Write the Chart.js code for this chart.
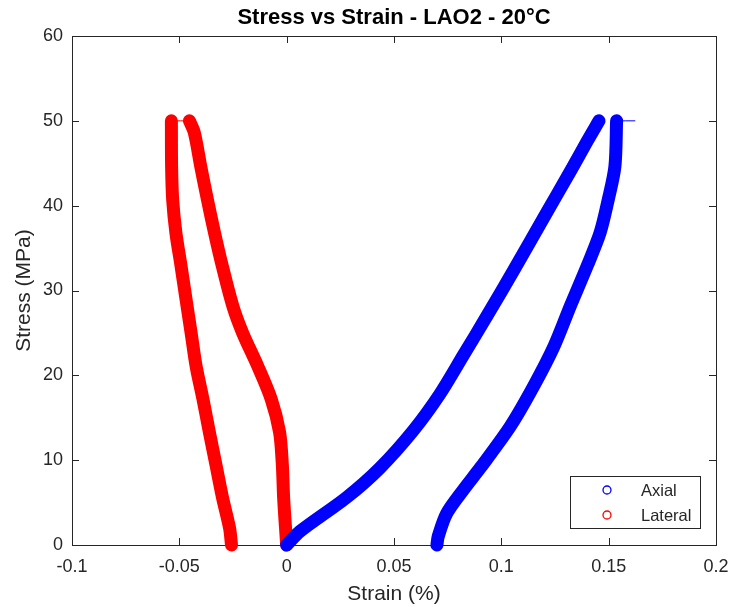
<!DOCTYPE html>
<html>
<head>
<meta charset="utf-8">
<title>Stress vs Strain - LAO2 - 20°C</title>
<script src="https://cdn.jsdelivr.net/npm/chart.js@4.4.1/dist/chart.umd.min.js"></script>
<style>
  html, body { margin: 0; padding: 0; background: #fff; }
  canvas { display: block; }
</style>
</head>
<body>
<canvas id="myChart" width="733" height="607"></canvas>
<script>
//=========================== DATA ===========================//
// axial strain, loading branch (%) and stress (MPa)
var axialLoadStrain   = [0.000, 0.0062, 0.0279, 0.0435, 0.059, 0.0714, 0.0824, 0.0933, 0.1058, 0.120, 0.1325, 0.140, 0.1455];
var axialLoadStress   = [0.0,   1.6,    5.6,    9.1,    13.5,  17.8,   22.4,   27.0,   32.4,   38.7,  44.2,   47.6,  50.0];
// axial strain, unloading branch
var axialUnloadStrain = [0.1537, 0.1529, 0.1498, 0.1460, 0.140, 0.1322, 0.1245, 0.115, 0.1042, 0.0905, 0.0823, 0.0745, 0.0706, 0.070];
var axialUnloadStress = [50.0,   44.6,   40.7,   36.8,   32.9,  28.2,   23.4,   18.7,  14.0,   9.2,    6.5,    3.7,    1.0,    0.0];
// short hold segment drawn as a thin line at the top of the axial loop
var axialHoldStrain   = [0.1537, 0.1622];
var axialHoldStress   = [50.0,   50.0];

// lateral strain, loading branch
var latLoadStrain     = [0.000, -0.0014, -0.002, -0.0033, -0.0072, -0.0135, -0.0205, -0.025, -0.030, -0.0336, -0.0369, -0.040, -0.043, -0.0453];
var latLoadStress     = [0.0,   5.5,     9.4,    13.3,    17.2,    21.1,    25.0,    28.1,   32.9,   36.8,    40.7,    44.6,   48.6,   50.0];
// lateral strain, unloading branch
var latUnloadStrain   = [-0.0537, -0.0536, -0.0531, -0.0516, -0.0492, -0.0469, -0.0445, -0.0422, -0.039, -0.036, -0.0329, -0.0298, -0.0266, -0.0257];
var latUnloadStress   = [50.0,    44.6,    40.7,    36.8,    32.9,    29.0,    25.0,    21.1,    17.2,   13.3,   9.4,     5.5,     2.0,     0.0];
var latHoldStrain     = [-0.0537, -0.0453];
var latHoldStress     = [50.0,    50.0];

var xTickLabels = ["-0.1", "-0.05", "0", "0.05", "0.1", "0.15", "0.2"];
var yTickLabels = ["0", "10", "20", "30", "40", "50", "60"];
var legendLabels = ["Axial", "Lateral"];
var chartTitle = "Stress vs Strain - LAO2 - 20°C";

//=========================== STYLE ===========================//
var axialColor = "rgb(0,0,255)";
var latColor = "rgb(255,0,0)";
var axisColor = "#262626";
var fontFamily = "'Liberation Sans', Arial, Helvetica, sans-serif";
var bandWidth = 13;
var tickLen = 7;

function toPoints(xs, ys){
    var pts = [];
    for(var i = 0; i < xs.length; i++){
        pts.push({x: xs[i], y: ys[i]});
    }
    return pts;
}

function band(label, xs, ys, color, width){
    return {
        label: label,
        data: toPoints(xs, ys),
        showLine: true,
        borderColor: color,
        backgroundColor: color,
        borderWidth: width,
        borderCapStyle: "round",
        borderJoinStyle: "round",
        pointRadius: 0,
        pointHoverRadius: 0,
        tension: 0.3,
        clip: false
    };
}

// box round the axes with inward ticks on all four sides, plus the title over the plot
var matlabBox = {
    id: "matlabBox",
    beforeDatasetsDraw: function(chart){
        var ctx = chart.ctx;
        var a = chart.chartArea;
        var xs = chart.scales.x, ys = chart.scales.y;
        ctx.save();
        ctx.strokeStyle = axisColor;
        ctx.lineWidth = 1;
        ctx.strokeRect(Math.round(a.left) + 0.5, Math.round(a.top) + 0.5,
                       Math.round(a.right - a.left), Math.round(a.bottom - a.top));
        ctx.beginPath();
        xs.ticks.forEach(function(t){
            var px = Math.round(xs.getPixelForValue(t.value)) + 0.5;
            ctx.moveTo(px, a.bottom); ctx.lineTo(px, a.bottom - tickLen);
            ctx.moveTo(px, a.top);    ctx.lineTo(px, a.top + tickLen);
        });
        ys.ticks.forEach(function(t){
            var py = Math.round(ys.getPixelForValue(t.value)) + 0.5;
            ctx.moveTo(a.left, py);  ctx.lineTo(a.left + tickLen, py);
            ctx.moveTo(a.right, py); ctx.lineTo(a.right - tickLen, py);
        });
        ctx.stroke();

        ctx.fillStyle = "#000";
        ctx.font = "bold 22px " + fontFamily;
        ctx.textAlign = "center";
        ctx.textBaseline = "middle";
        ctx.fillText(chartTitle, (a.left + a.right) / 2, 18);
        ctx.restore();
    }
};

// legend box in the lower right corner of the plot
var insideLegend = {
    id: "insideLegend",
    afterDraw: function(chart){
        var ctx = chart.ctx;
        var a = chart.chartArea;
        var w = 130, h = 52;
        var left = Math.round(a.right - 16 - w), top = Math.round(a.bottom - 17 - h);
        var colors = [axialColor, latColor];
        ctx.save();
        ctx.fillStyle = "#fff";
        ctx.fillRect(left, top, w, h);
        ctx.strokeStyle = axisColor;
        ctx.lineWidth = 1;
        ctx.strokeRect(left + 0.5, top + 0.5, w, h);
        ctx.font = "16.5px " + fontFamily;
        ctx.textBaseline = "middle";
        ctx.textAlign = "left";
        for(var i = 0; i < legendLabels.length; i++){
            var cy = top + 14 + i * 25;
            ctx.beginPath();
            ctx.arc(left + 37, cy, 4, 0, Math.PI * 2);
            ctx.strokeStyle = colors[i];
            ctx.lineWidth = 1.3;
            ctx.stroke();
            ctx.fillStyle = axisColor;
            ctx.fillText(legendLabels[i], left + 71, cy + 1);
        }
        ctx.restore();
    }
};

new Chart("myChart", {
    type: "scatter",
    data: {
        datasets: [
            band("Axial", axialLoadStrain, axialLoadStress, axialColor, bandWidth),
            band("Axial", axialUnloadStrain, axialUnloadStress, axialColor, bandWidth),
            band("Axial", axialHoldStrain, axialHoldStress, axialColor, 1),
            band("Lateral", latLoadStrain, latLoadStress, latColor, bandWidth),
            band("Lateral", latUnloadStrain, latUnloadStress, latColor, bandWidth),
            band("Lateral", latHoldStrain, latHoldStress, latColor, 1)
        ]
    },
    options: {
        responsive: false,
        animation: false,
        devicePixelRatio: 1,
        layout: { padding: { left: 0, right: 17, top: 36, bottom: 0 } },
        plugins: {
            legend: { display: false },
            tooltip: { enabled: false },
            title: { display: false }
        },
        scales: {
            x: {
                type: "linear",
                min: -0.1,
                max: 0.2,
                grid: { display: false, drawTicks: false },
                border: { display: false },
                ticks: {
                    stepSize: 0.05,
                    color: axisColor,
                    padding: 11,
                    maxRotation: 0,
                    font: { family: fontFamily, size: 18 },
                    callback: function(v, i){ return xTickLabels[i]; }
                },
                title: {
                    display: true,
                    text: "Strain (%)",
                    color: axisColor,
                    font: { family: fontFamily, size: 21 },
                    padding: { top: 0, bottom: 0.5 }
                },
                afterFit: function(s){
                    s.height = 62;
                    s.paddingLeft = 0;
                    s.paddingRight = 0;
                }
            },
            y: {
                type: "linear",
                min: 0,
                max: 60,
                grid: { display: false, drawTicks: false },
                border: { display: false },
                ticks: {
                    stepSize: 10,
                    color: axisColor,
                    padding: 9,
                    font: { family: fontFamily, size: 18 },
                    callback: function(v, i){ return yTickLabels[i]; }
                },
                title: {
                    display: true,
                    text: "Stress (MPa)",
                    color: axisColor,
                    font: { family: fontFamily, size: 21 },
                    padding: { top: 12, bottom: 0 }
                },
                afterFit: function(s){
                    s.width = 72;
                    s.paddingTop = 0;
                    s.paddingBottom = 0;
                }
            }
        }
    },
    plugins: [matlabBox, insideLegend]
});
</script>
</body>
</html>
